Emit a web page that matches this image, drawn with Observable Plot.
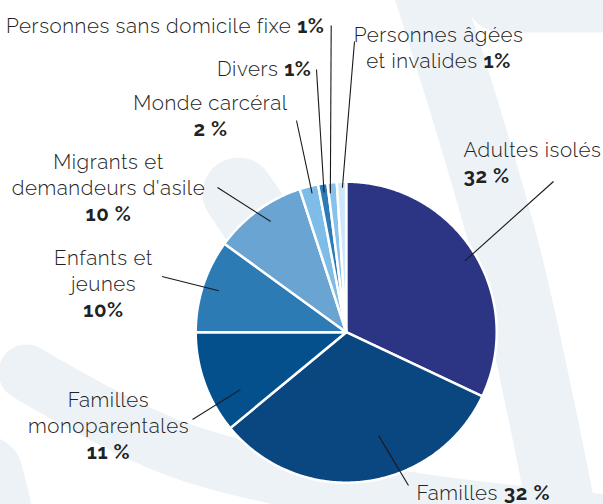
<!DOCTYPE html>
<html><head><meta charset="utf-8">
<script src="https://cdn.jsdelivr.net/npm/d3@7"></script>
<script src="https://cdn.jsdelivr.net/npm/@observablehq/plot@0.6"></script>
<style>
html,body{margin:0;padding:0;background:#fff;overflow:hidden;}
#chart{width:603px;height:504px;}
</style></head><body><div id="chart"></div>
<script>
// ---- data ----
const categories = ["Adultes isolés","Familles","Familles monoparentales","Enfants et jeunes","Migrants et demandeurs d'asile","Monde carcéral","Divers","Personnes sans domicile fixe","Personnes âgées et invalides"];
const shares = [32, 32, 11, 10, 10, 2, 1, 1, 1];
const percentLabels = ["32 %","32 %","11 %","10%","10 %","2 %","1%","1%","1%"];
// label text, line by line; {p} is where the bold percentage goes
const labelLines = [
  ["Adultes isolés","{p}"],
  ["Familles {p}"],
  ["Familles","monoparentales","{p}"],
  ["Enfants et","jeunes","{p}"],
  ["Migrants et","demandeurs d'asile","{p}"],
  ["Monde carcéral","{p}"],
  ["Divers {p}"],
  ["Personnes sans domicile fixe {p}"],
  ["Personnes âgées","et invalides {p}"]
];
const sliceColors = ["#2b3583","#0a4680","#03508d","#2c7bb5","#69a4d2","#7fbde9","#2c7bb5","#86c2ec","#cde6f8"];

// ---- layout ----
const W = 603, H = 504;
const pie = {cx: 345.7, cy: 331.7, r: 150.5};
const labelPos = [
  {x: 463, y: 161.5, anchor: "start"},
  {x: 416, y: 491, anchor: "start"},
  {x: 108, y: 424, anchor: "middle"},
  {x: 103, y: 282.5, anchor: "middle"},
  {x: 108, y: 186, anchor: "middle"},
  {x: 210, y: 114, anchor: "middle"},
  {x: 311, y: 67, anchor: "end"},
  {x: 324, y: 24, anchor: "end"},
  {x: 438, y: 46.5, anchor: "middle"}
];
const leaderFrom = [[553,181],[408,485],[192,419],[161.5,276],[217,187],[296,120],[316,69],[330.7,25],[354,41]];
const leaderTo = [{da:1.4,k:.92},{da:-10.2,k:.72},{da:-8.7,k:.80},{da:0,k:.89},{da:1.7,k:.89},{da:.6,k:.95},{da:0,k:.94},{da:-1.1,k:.93},{da:.3,k:.96}];
const watermark = [
  {w: 68, pts: [[424,-20],[505,250],[565,530]]},
  {w: 72, pts: [[501,-4],[680,-4]]},
  {w: 72, pts: [[238,193],[330,330]]},
  {w: 56, pts: [[26,372],[180,450],[413,500],[640,525]]},
  {w: 72, pts: [[-14,472],[8,560]]}
];

// ---- geometry from data ----
const arcs = d3.pie().sort(null).value(d => d)(shares);
const slices = arcs.map((a, i) => {
  const pts = [{x: pie.cx, y: pie.cy}];
  const n = Math.max(2, Math.ceil((a.endAngle - a.startAngle) / (Math.PI / 360)));
  for (let k = 0; k <= n; k++) {
    const t = a.startAngle + (a.endAngle - a.startAngle) * k / n;
    pts.push({x: pie.cx + pie.r * Math.sin(t), y: pie.cy - pie.r * Math.cos(t)});
  }
  return {pts, color: sliceColors[i]};
});
const leaders = arcs.map((a, i) => {
  const mid = (a.startAngle + a.endAngle) / 2 + leaderTo[i].da * Math.PI / 180;
  const rr = pie.r * leaderTo[i].k;
  return {x1: leaderFrom[i][0], y1: leaderFrom[i][1], x2: pie.cx + rr * Math.sin(mid), y2: pie.cy - rr * Math.cos(mid)};
});
const labels = categories.map((c, i) => ({
  name: c,
  text: labelLines[i].join("\n").replace("{p}", "\u27E6" + percentLabels[i] + "\u27E7"),
  ...labelPos[i]
}));

const textOpts = a => ({
  x: "x", y: "y", text: "text", textAnchor: a, lineAnchor: "middle",
  fontSize: 20.5, lineHeight: 1.27, fill: "#222", fontWeight: 300
});

const chart = Plot.plot({
  width: W, height: H, margin: 0,
  x: {domain: [0, W], range: [0, W], axis: null},
  y: {domain: [0, H], range: [0, H], axis: null},
  style: {fontFamily: "Raleway, Lato, 'Open Sans', sans-serif", background: "#fff"},
  marks: [
    ...watermark.map(b => Plot.line(b.pts, {x: d => d[0], y: d => d[1], stroke: "#edf2f7", strokeWidth: b.w, strokeLinecap: "round", curve: "catmull-rom"})),
    ...slices.map(s => Plot.line(s.pts, {x: "x", y: "y", fill: s.color, stroke: "#fff", strokeWidth: 2.5, strokeLinejoin: "round", curve: "linear-closed"})),
    Plot.link(leaders, {x1: "x1", y1: "y1", x2: "x2", y2: "y2", stroke: "#1a1a1a", strokeWidth: 1.1}),
    ...["start", "middle", "end"].map(a => Plot.text(labels.filter(d => d.anchor === a), textOpts(a)))
  ]
});

// bold percentages + letter spacing
chart.querySelectorAll("text").forEach(t => {
  t.setAttribute("letter-spacing", "0.55");
  const spans = t.querySelectorAll("tspan");
  const targets = spans.length ? Array.from(spans) : [t];
  targets.forEach(el => {
    const s = el.textContent;
    const i = s.indexOf("\u27E6");
    if (i < 0) return;
    const j = s.indexOf("\u27E7");
    el.textContent = s.slice(0, i);
    const b = document.createElementNS("http://www.w3.org/2000/svg", "tspan");
    b.setAttribute("font-weight", "700");
    b.textContent = s.slice(i + 1, j);
    el.appendChild(b);
    if (j + 1 < s.length) el.appendChild(document.createTextNode(s.slice(j + 1)));
  });
});
document.getElementById("chart").appendChild(chart);
</script></body></html>
